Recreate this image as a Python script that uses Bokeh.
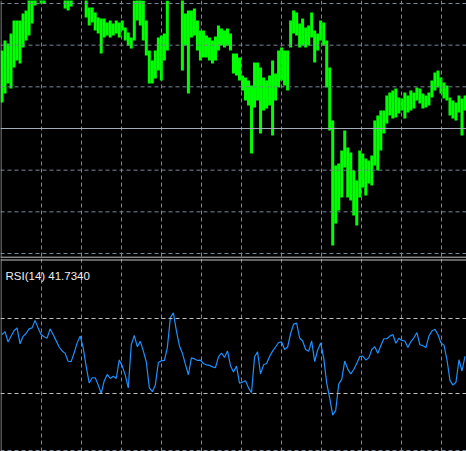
from bokeh.plotting import figure
from bokeh.layouts import column
from bokeh.models import Span, Label, Range1d, ColumnDataSource
from bokeh.embed import file_html
from bokeh.resources import INLINE

# ---- data ----
bar_high = [206, 216, 213, 223, 236, 236, 236, 243, 246, 258,
            266, 271, 276, 271, 266, 280, 285, 290, 288, 282,
            278, 262, 258, 260, 270, 278, 282, 275, 261, 249,
            249, 244, 239, 238, 238, 234, 236, 233, 236, 234,
            236, 229, 224, 219, 256, 266, 261, 256, 236, 206,
            196, 206, 219, 221, 223, 256, 270, 275, 272, 265,
            261, 243, 246, 246, 248, 236, 226, 226, 221, 219,
            216, 220, 231, 228, 226, 228, 223, 203, 203, 199,
            181, 179, 176, 171, 194, 194, 189, 179, 176, 181,
            196, 183, 206, 209, 206, 206, 236, 246, 244, 233,
            238, 229, 231, 244, 226, 223, 236, 234, 216, 189,
            136, 91, 93, 106, 126, 109, 104, 86, 76, 106,
            103, 98, 96, 101, 136, 141, 146, 146, 161, 164,
            166, 168, 159, 158, 164, 161, 166, 164, 169, 168,
            163, 161, 164, 176, 184, 186, 179, 174, 171, 159,
            156, 154, 161, 158, 161]
bar_low = [154, 163, 173, 168, 189, 196, 193, 209, 216, 221,
           233, 251, 256, 253, 253, 262, 265, 268, 266, 262,
           260, 248, 246, 250, 258, 262, 265, 260, 239, 231,
           234, 226, 223, 203, 219, 221, 219, 221, 223, 219,
           226, 216, 211, 208, 216, 236, 231, 216, 201, 173,
           173, 178, 186, 176, 196, 206, 260, 262, 260, 258,
           186, 211, 163, 219, 221, 206, 196, 199, 199, 196,
           193, 196, 206, 211, 209, 211, 206, 183, 181, 176,
           166, 156, 151, 103, 149, 156, 123, 146, 148, 151,
           121, 156, 169, 176, 171, 166, 209, 223, 221, 209,
           211, 209, 211, 219, 194, 206, 216, 211, 169, 126,
           11, 33, 46, 59, 89, 59, 56, 41, 31, 59,
           69, 61, 73, 71, 91, 86, 106, 123, 133, 141,
           138, 139, 143, 146, 138, 144, 146, 148, 156, 153,
           148, 149, 151, 159, 166, 169, 163, 158, 156, 141,
           138, 136, 144, 121, 146]
rsi_values = [61.5, 63, 57.5, 60.5, 63.5, 65, 56.5, 60.5, 62, 64.5,
              65, 69, 65, 61.5, 60.3, 59.5, 64.5, 61.5, 58.2, 54.8,
              52.7, 51.4, 47.2, 47, 51.7, 57, 60.6, 54.5, 44.5, 35.6,
              38.4, 38.4, 34.6, 30, 36.7, 40.2, 38, 39.2, 38, 47.9,
              44.6, 39.8, 33, 56, 61, 55, 57.8, 52.7, 46.8, 33,
              31, 34.5, 46.5, 47.5, 47.5, 54.5, 70.5, 73, 63.5, 55.5,
              51.5, 45.5, 40, 49, 48.5, 47.6, 47.8, 46, 45.3, 45,
              44.2, 43.8, 49.5, 51.6, 49.2, 52.7, 44.8, 41.5, 44.6, 35.5,
              36.1, 36.8, 33, 30.5, 49.5, 52.2, 40.5, 45.3, 46, 49.7,
              52.6, 54.8, 57.2, 57.5, 53.5, 54.8, 62, 67, 67.5, 59.6,
              58, 53.5, 52.5, 58, 47, 53.2, 57, 49, 35.5, 27.5,
              18.5, 21, 35, 37.5, 47.3, 43, 40.5, 42.8, 46, 49.7,
              50, 47.9, 49, 53.5, 55, 51.5, 55.5, 59.2, 59.2, 60.6,
              61.5, 56.8, 59.5, 58.3, 58, 54.5, 57.7, 59.7, 62.5, 56,
              55.5, 54.5, 60.6, 63.3, 64.3, 61.5, 57, 55.8, 48, 37,
              34.5, 36, 48, 42, 49.8]
rsi_label = "RSI(14) 41.7340"
rsi_levels = [30, 70]
price_line_level = 128

# ---- layout / style ----
N = len(bar_high)
idx = list(range(N))
W = 466
H_TOP = 258
H_BOT = 193
BG = "#000000"
GRID = "#778899"
BORDER = "#c4c4c4"
LEVEL = "#c0c0c0"
DASH = "4 3"

px_per_bar = W / N
top_lo, top_hi = -2, 256
bot_lo, bot_hi = -0.93, 102
bot_px_per_unit = H_BOT / (bot_hi - bot_lo)

x_range = Range1d(-0.5, N - 0.5)

def mkfig(h, yr):
    f = figure(width=W, height=h, x_range=x_range, y_range=yr,
               output_backend="svg", toolbar_location=None,
               x_axis_location=None, y_axis_location=None, min_border=0,
               background_fill_color=BG, border_fill_color=BG,
               outline_line_color=None)
    f.xgrid.visible = False
    f.ygrid.visible = False
    return f

top = mkfig(H_TOP, Range1d(top_lo, top_hi))
bot = mkfig(H_BOT, Range1d(bot_lo, bot_hi))

# vertical grid every 40 px starting at 41 px
vgrid_first_px, vgrid_step_px = 41, 40
vgrid = []
p = vgrid_first_px
while p < W:
    vgrid.append(p / px_per_bar - 0.5)
    p += vgrid_step_px
for f in (top, bot):
    for v in vgrid:
        f.add_layout(Span(location=v, dimension="height", line_color=GRID,
                          line_width=1, line_dash=DASH))

# horizontal grid in top panel
hgrid_step = (253 - 3) / 6
for k in range(7):
    top.add_layout(Span(location=3 + k * hgrid_step, dimension="width",
                        line_color=GRID, line_width=1, line_dash=DASH))

# price line
top.add_layout(Span(location=price_line_level, dimension="width",
                    line_color="#a3acb9", line_width=1))

# bars
src = ColumnDataSource(dict(x=idx, hi=bar_high, lo=bar_low))
top.segment(x0="x", y0="lo", x1="x", y1="hi", source=src,
            line_color="#00ff00", line_width=3.0)

# borders
top.add_layout(Span(location=top_lo + 1.3, dimension="width",
                    line_color=BORDER, line_width=1))
bot.add_layout(Span(location=bot_hi - 1.5 / bot_px_per_unit, dimension="width",
                    line_color=BORDER, line_width=1))
left_x = -0.5 + 0.5 / px_per_bar
for f in (top, bot):
    f.add_layout(Span(location=left_x, dimension="height",
                      line_color="#a8a8a8", line_width=1))

# RSI levels and bottom grid line
for lv in rsi_levels:
    bot.add_layout(Span(location=lv, dimension="width", line_color=LEVEL,
                        line_width=1, line_dash=DASH))
bot.add_layout(Span(location=bot_lo + 1.0 / bot_px_per_unit, dimension="width",
                    line_color=GRID, line_width=1, line_dash=DASH))

# RSI line
bot.line(idx, rsi_values, line_color="#1e90ff", line_width=1.2)

# label
bot.add_layout(Label(x=-0.5 + 5 / px_per_bar, y=bot_hi - 17 / bot_px_per_unit,
                     text=rsi_label, text_font="Liberation Sans",
                     text_font_size="11.5px", text_color="#f0f0f0",
                     text_baseline="alphabetic", text_align="left"))

layout = column(top, bot, spacing=0)

html = file_html(layout, INLINE)
html = html.replace("</head>",
                    "<style>html,body{margin:0;padding:0;background:#000;overflow:hidden}</style></head>", 1)
open("out.html", "w").write(html)
